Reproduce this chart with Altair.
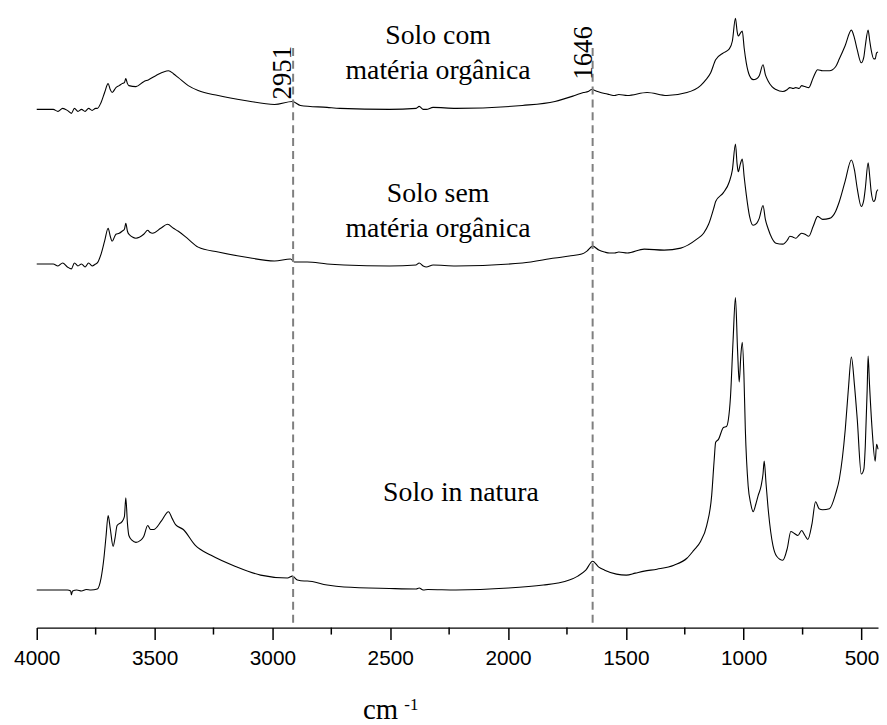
import altair as alt
import pandas as pd

# ---------------- data: (wavenumber, absorbance a.u.) ----------------
# Solo in natura (bottom spectrum)
natura = [(4000, 0.38), (3930, 0.38), (3900, 0.38), (3870, 0.38), (3856, 0.37), (3853, 0.33),
          (3848, 0.37), (3830, 0.38), (3810, 0.37), (3790, 0.385), (3770, 0.38), (3743, 0.39),
          (3727, 0.50), (3715, 0.70), (3706, 0.92), (3697, 1.13), (3688, 1.00), (3676, 0.82),
          (3668, 0.90), (3659, 1.03), (3638, 1.07), (3628, 1.12), (3622, 1.31), (3615, 1.05),
          (3609, 0.93), (3595, 0.88), (3579, 0.86), (3560, 0.88), (3546, 0.92), (3529, 1.03),
          (3517, 0.99), (3504, 0.99), (3470, 1.08), (3441, 1.17), (3425, 1.10), (3411, 1.04),
          (3378, 0.99), (3327, 0.83), (3260, 0.73), (3159, 0.62), (3050, 0.53), (2936, 0.50),
          (2915, 0.52), (2894, 0.48), (2865, 0.47), (2852, 0.47), (2768, 0.43), (2696, 0.41),
          (2503, 0.395), (2390, 0.39), (2377, 0.40), (2360, 0.38), (2340, 0.385), (2221, 0.38),
          (1998, 0.40), (1850, 0.43), (1788, 0.45), (1740, 0.48), (1704, 0.52), (1670, 0.58),
          (1641, 0.67), (1615, 0.61), (1590, 0.58), (1540, 0.54), (1498, 0.53), (1460, 0.55),
          (1422, 0.57), (1368, 0.59), (1296, 0.63), (1241, 0.70), (1212, 0.78), (1183, 0.87),
          (1157, 1.03), (1136, 1.33), (1125, 1.70), (1119, 1.87), (1107, 1.90), (1086, 2.02),
          (1073, 2.03), (1065, 2.10), (1056, 2.33), (1045, 2.90), (1035, 3.33), (1026, 2.80),
          (1019, 2.48), (1012, 2.75), (1006, 2.88), (999, 2.55), (993, 2.00), (981, 1.43),
          (970, 1.25), (960, 1.17), (948, 1.25), (939, 1.33), (926, 1.43), (918, 1.55),
          (913, 1.68), (905, 1.45), (895, 1.17), (876, 0.83), (860, 0.72), (834, 0.68),
          (815, 0.80), (800, 0.97), (785, 0.95), (770, 0.93), (754, 0.98), (740, 0.93),
          (728, 0.89), (710, 1.05), (695, 1.27), (680, 1.20), (665, 1.19), (636, 1.20),
          (610, 1.35), (594, 1.50), (569, 2.00), (556, 2.40), (543, 2.73), (530, 2.45),
          (518, 2.10), (501, 1.55), (490, 1.60), (484, 1.83), (476, 2.40), (472, 2.74),
          (466, 2.45), (455, 2.00), (442, 1.68), (436, 1.85), (430, 1.80)]

# Solo sem matéria orgânica (middle spectrum)
sem = [(4000, 3.67), (3930, 3.67), (3910, 3.65), (3890, 3.68), (3870, 3.64), (3853, 3.62),
       (3840, 3.68), (3825, 3.65), (3810, 3.67), (3795, 3.64), (3780, 3.68), (3765, 3.65),
       (3750, 3.67), (3743, 3.68), (3727, 3.77), (3712, 3.90), (3697, 4.03), (3688, 3.95),
       (3680, 3.90), (3664, 3.97), (3650, 3.98), (3638, 4.00), (3628, 4.02), (3622, 4.08),
       (3615, 4.00), (3609, 3.97), (3579, 3.93), (3546, 3.97), (3529, 4.01), (3520, 3.99),
       (3508, 3.98), (3474, 4.03), (3445, 4.07), (3420, 4.03), (3399, 4.00), (3357, 3.92),
       (3315, 3.84), (3230, 3.79), (3117, 3.74), (2991, 3.70), (2923, 3.72), (2907, 3.69),
       (2880, 3.69), (2852, 3.69), (2768, 3.67), (2696, 3.66), (2503, 3.65), (2390, 3.66),
       (2377, 3.68), (2360, 3.65), (2347, 3.64), (2318, 3.66), (2221, 3.65), (1939, 3.68),
       (1801, 3.73), (1740, 3.75), (1687, 3.77), (1665, 3.80), (1641, 3.85), (1615, 3.81),
       (1590, 3.79), (1570, 3.78), (1548, 3.78), (1530, 3.79), (1494, 3.78), (1422, 3.82),
       (1338, 3.81), (1267, 3.83), (1199, 3.92), (1170, 3.98), (1149, 4.07), (1125, 4.25),
       (1119, 4.30), (1086, 4.39), (1061, 4.50), (1048, 4.62), (1035, 4.88), (1028, 4.68),
       (1023, 4.60), (1014, 4.68), (1006, 4.73), (998, 4.55), (989, 4.37), (975, 4.15),
       (960, 4.06), (945, 4.08), (934, 4.13), (918, 4.26), (908, 4.12), (897, 4.03),
       (880, 3.93), (863, 3.88), (834, 3.87), (815, 3.91), (804, 3.95), (790, 3.94),
       (779, 3.93), (765, 3.96), (754, 3.98), (740, 3.97), (724, 3.95), (705, 4.05),
       (686, 4.15), (665, 4.12), (636, 4.13), (610, 4.20), (594, 4.30), (570, 4.50),
       (543, 4.72), (530, 4.62), (518, 4.43), (501, 4.25), (490, 4.32), (484, 4.43),
       (472, 4.69), (465, 4.55), (459, 4.40), (448, 4.30), (442, 4.32), (436, 4.40), (430, 4.42)]

# Solo com matéria orgânica (top spectrum)
com = [(4000, 5.23), (3930, 5.23), (3910, 5.21), (3890, 5.24), (3870, 5.22), (3853, 5.19),
       (3840, 5.24), (3825, 5.21), (3810, 5.23), (3795, 5.21), (3780, 5.24), (3765, 5.22),
       (3750, 5.24), (3743, 5.24), (3727, 5.30), (3712, 5.40), (3697, 5.49), (3688, 5.43),
       (3680, 5.40), (3664, 5.45), (3650, 5.47), (3638, 5.49), (3628, 5.50), (3622, 5.54),
       (3615, 5.49), (3609, 5.47), (3579, 5.46), (3546, 5.51), (3525, 5.53), (3495, 5.57),
       (3441, 5.62), (3420, 5.59), (3399, 5.55), (3357, 5.47), (3315, 5.42), (3230, 5.37),
       (3117, 5.32), (2991, 5.28), (2915, 5.31), (2881, 5.27), (2768, 5.25), (2713, 5.24),
       (2503, 5.23), (2390, 5.24), (2377, 5.26), (2360, 5.23), (2347, 5.23), (2318, 5.25),
       (2221, 5.24), (1939, 5.27), (1801, 5.31), (1717, 5.37), (1680, 5.40), (1660, 5.41),
       (1645, 5.43), (1620, 5.41), (1590, 5.39), (1570, 5.38), (1548, 5.37), (1530, 5.38),
       (1494, 5.37), (1410, 5.40), (1326, 5.37), (1241, 5.40), (1183, 5.47), (1160, 5.53),
       (1140, 5.60), (1119, 5.73), (1086, 5.80), (1061, 5.84), (1048, 5.92), (1035, 6.15),
       (1028, 6.02), (1023, 5.97), (1014, 6.00), (1006, 6.02), (998, 5.85), (989, 5.70),
       (975, 5.57), (960, 5.53), (945, 5.54), (934, 5.57), (918, 5.68), (908, 5.58),
       (897, 5.52), (880, 5.46), (863, 5.43), (834, 5.41), (815, 5.43), (804, 5.45),
       (790, 5.44), (779, 5.45), (765, 5.44), (754, 5.47), (740, 5.46), (724, 5.45),
       (705, 5.55), (686, 5.63), (665, 5.62), (636, 5.62), (610, 5.66), (594, 5.74),
       (570, 5.87), (543, 6.03), (530, 5.95), (518, 5.83), (501, 5.70), (490, 5.76),
       (484, 5.87), (472, 6.03), (465, 5.92), (459, 5.83), (448, 5.74), (442, 5.74),
       (436, 5.80), (430, 5.81)]

# axis ticks
major_ticks = list(range(500, 4001, 500))
minor_ticks = list(range(750, 4000, 500))

# marked bands
band_pos = [2912, 1641]
band_label = ["2951", "1646"]
band_label_x = [2919, 1645]
band_label_y = [5.60, 5.80]
band_top = 5.90
band_bottom = 0.05

# sample names
sample_text = ["Solo com", "matéria orgânica", "Solo sem", "matéria orgânica", "Solo in natura"]
sample_x = [2297, 2297, 2297, 2297, 2200]
sample_y = [5.89, 5.54, 4.30, 3.94, 1.28]

# ---------------- build tables ----------------
def frame(pairs, name):
    return pd.DataFrame({"wn": [p[0] for p in pairs], "ab": [p[1] for p in pairs], "serie": name})

spec = pd.concat([frame(com, "com"), frame(sem, "sem"), frame(natura, "natura")], ignore_index=True)
bands = pd.DataFrame({"pos": band_pos, "label": band_label, "lx": band_label_x,
                      "ly": band_label_y, "top": band_top, "bottom": band_bottom})
samples = pd.DataFrame({"text": sample_text, "x": sample_x, "y": sample_y})
minor = pd.DataFrame({"wn": minor_ticks})

SERIF = "Liberation Serif"

xscale = alt.Scale(domain=[430, 4000], reverse=True, nice=False, zero=False)
yscale = alt.Scale(domain=[0, 6.2], nice=False, zero=False)

xaxis = alt.Axis(
    values=major_ticks,
    format="d",
    tickSize=12, tickColor="black", tickWidth=1.5,
    domainColor="black", domainWidth=1.5,
    labelFont="Liberation Sans", labelFontSize=21, labelColor="black", labelPadding=8,
    labelFlush=False, labelOverlap=False,
    grid=False, title=None,
)

lines = alt.Chart(spec).mark_line(color="black", strokeWidth=1.1, interpolate="monotone").encode(
    x=alt.X("wn:Q", scale=xscale, axis=xaxis),
    y=alt.Y("ab:Q", scale=yscale, axis=None),
    detail="serie:N",
)

minor_rules = alt.Chart(minor).mark_rule(color="black", strokeWidth=1.5).encode(
    x="wn:Q", y=alt.value(620), y2=alt.value(627),
)

rules = alt.Chart(bands).mark_rule(color="#7f7f7f", strokeWidth=2, strokeDash=[8, 5]).encode(
    x="pos:Q", y="bottom:Q", y2="top:Q",
)

band_text = alt.Chart(bands).mark_text(
    angle=270, font=SERIF, fontSize=27, align="center", baseline="alphabetic", color="black"
).encode(x="lx:Q", y="ly:Q", text="label:N")

sample_labels = alt.Chart(samples).mark_text(
    font=SERIF, fontSize=28, align="center", baseline="alphabetic", color="black"
).encode(x="x:Q", y="y:Q", text="text:N")

title_cm = alt.Chart(pd.DataFrame({"t": ["cm"]})).mark_text(
    font=SERIF, fontSize=29, align="center", baseline="alphabetic", color="black"
).encode(x=alt.value(347), y=alt.value(712), text="t:N")
title_exp = alt.Chart(pd.DataFrame({"t": ["-1"]})).mark_text(
    font=SERIF, fontSize=17, align="left", baseline="alphabetic", color="black"
).encode(x=alt.value(371), y=alt.value(703), text="t:N")

chart = alt.layer(lines, minor_rules, rules, band_text, sample_labels, title_cm, title_exp).properties(
    width=849, height=620,
    autosize=alt.AutoSizeParams(type="none"),
    padding={"left": 29, "top": 2, "right": 1, "bottom": 100},
).configure_view(stroke=None)

chart.save("out.html", embed_options={"renderer": "svg", "actions": False})
